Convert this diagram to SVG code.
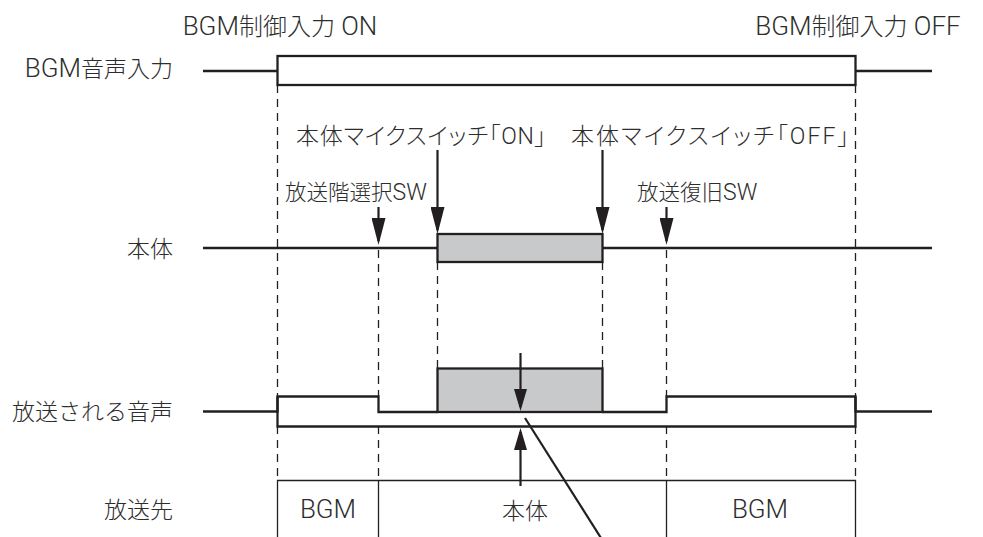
<svg xmlns="http://www.w3.org/2000/svg" width="983" height="537" viewBox="0 0 983 537">
<defs>
<style>
.t{font-family:"Roboto","Noto Sans CJK JP",sans-serif;font-size:23px;fill:#2d2d2d;font-weight:300;}
.p{font-feature-settings:"palt";}
.sm{font-size:21.5px;}
.big{font-size:24px;}
.lat{font-size:26px;}
.w{fill:none;stroke:#231f20;stroke-width:2.3;}
.box{fill:#ffffff;stroke:#231f20;stroke-width:2.3;}
.wg{fill:#c8c9ca;stroke:#231f20;stroke-width:2.3;}
.d{fill:none;stroke:#231f20;stroke-width:1.3;stroke-dasharray:8 6;}
.n{fill:none;stroke:#231f20;stroke-width:1.3;}
.a{fill:none;stroke:#231f20;stroke-width:2.2;}
</style>
<marker id="ah" markerUnits="userSpaceOnUse" markerWidth="28" markerHeight="14" refX="23" refY="7" orient="auto"><path d="M0,0 L27,7 L0,14 z" fill="#231f20"/></marker>
<marker id="ah2" markerUnits="userSpaceOnUse" markerWidth="23" markerHeight="14" refX="18" refY="7" orient="auto"><path d="M0,0.5 L22,7 L0,13.5 z" fill="#231f20"/></marker>
</defs>
<rect width="983" height="537" fill="#ffffff"/>

<g id="guides">
<path class="d" d="M277.5,85 V396 M277.5,426 V480"/>
<path class="d" d="M378.5,250 V396 M378.5,426 V480"/>
<path class="d" d="M437.5,262 V368"/>
<path class="d" d="M602.5,262 V368"/>
<path class="d" d="M666.5,250 V396 M666.5,426 V480"/>
<path class="d" d="M855.5,85 V396 M855.5,426 V480"/>
</g>

<g id="row-bgm-input">
<text class="t" x="173" y="77" text-anchor="end"><tspan class="lat">BGM</tspan>音声入力</text>
<path class="w" d="M203,71 H277.5 M855.5,71 H932"/>
<rect class="box" x="277.5" y="56" width="578" height="29"/>
</g>

<g id="row-main">
<text class="t" x="173" y="256.5" text-anchor="end">本体</text>
<path class="w" d="M203,248 H437.5 M602.5,248 H932"/>
<rect class="wg" x="437.5" y="234" width="165" height="28"/>
</g>

<g id="row-output">
<text class="t" x="173" y="420" text-anchor="end">放送される音声</text>
<path class="w" d="M203,411.5 H277.5 V396.5 H378.5 V412 H437.5 M602.5,412 H666.5 V396.5 H855.5 V411.5 H932"/>
<path class="w" d="M277.5,396.5 V426.5 H855.5 V396.5"/>
<rect class="wg" x="437.5" y="368.5" width="165" height="43.5"/>
</g>

<g id="row-dest">
<text class="t" x="173" y="518" text-anchor="end">放送先</text>
<path class="n" d="M277.5,537 V480.5 H855.5 V537 M378.5,480.5 V537 M666.5,480.5 V537"/>
<text class="t lat" x="328" y="518" text-anchor="middle">BGM</text>
<text class="t" x="525" y="519" text-anchor="middle">本体</text>
<text class="t lat" x="760" y="518" text-anchor="middle">BGM</text>
</g>

<g id="label-on">
<text class="t big" x="280" y="35" text-anchor="middle"><tspan class="lat">BGM</tspan>制御入力<tspan class="lat"> ON</tspan></text>
</g>
<g id="label-off">
<text class="t big" x="858" y="35" text-anchor="middle"><tspan class="lat">BGM</tspan>制御入力<tspan class="lat"> OFF</tspan></text>
</g>
<g id="label-mic-on">
<text class="t p" x="296" y="143.5" textLength="250">本体マイクスイッチ「ON」</text>
</g>
<g id="label-mic-off">
<text class="t p" x="571" y="143.5" textLength="278">本体マイクスイッチ「OFF」</text>
</g>
<g id="label-floor">
<text class="t sm" x="285" y="199.5">放送階選択<tspan font-size="23px">SW</tspan></text>
</g>
<g id="label-restore">
<text class="t sm" x="637" y="199.5">放送復旧<tspan font-size="23px">SW</tspan></text>
</g>

<g id="connectors">
<line class="a" x1="437.5" y1="150" x2="437.5" y2="230" marker-end="url(#ah)"/>
<line class="a" x1="602.5" y1="150" x2="602.5" y2="230" marker-end="url(#ah)"/>
<line class="a" x1="378.5" y1="207" x2="378.5" y2="241" marker-end="url(#ah)"/>
<line class="a" x1="666.5" y1="207" x2="666.5" y2="241" marker-end="url(#ah)"/>
<line class="a" x1="520.5" y1="353" x2="520.5" y2="407" marker-end="url(#ah2)"/>
<line class="a" x1="520.5" y1="486" x2="520.5" y2="432" marker-end="url(#ah2)"/>
<line class="a" x1="525" y1="418" x2="601" y2="538"/>
</g>
</svg>
